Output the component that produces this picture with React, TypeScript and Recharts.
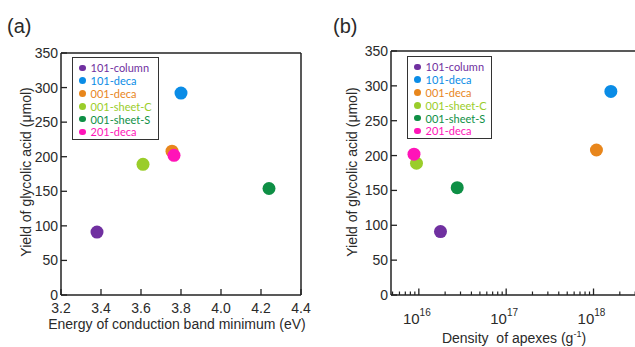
import React from 'react';
import { ScatterChart, Scatter, XAxis, YAxis, Legend, ReferenceLine } from 'recharts';

// ---- data ----
const sampleNames = ['101-column', '101-deca', '001-deca', '001-sheet-C', '001-sheet-S', '201-deca'];
const sampleColors = ['#7030A0', '#0A8CE6', '#E8861C', '#9ACD2A', '#0E8F45', '#FF14B8'];
const yieldValues = [91, 292, 208, 189, 154, 202];
const cbmEnergy = [3.38, 3.8, 3.755, 3.61, 4.24, 3.765];
const apexDensity = [1.77e16, 1.58e18, 1.08e18, 9.4e15, 2.75e16, 8.8e15];

const energyDomain = [3.2, 4.4];
const energyTicks = [3.2, 3.4, 3.6, 3.8, 4.0, 4.2, 4.4];
const yieldDomain = [0, 350];
const yieldTicks = [0, 50, 100, 150, 200, 250, 300, 350];
const densityDomain = [4.8e15, 5.77e18];
const densityMajorTicks = [1e16, 1e17, 1e18];
const densityMinorTicks = [
  5e15, 6e15, 7e15, 8e15, 9e15,
  2e16, 3e16, 4e16, 5e16, 6e16, 7e16, 8e16, 9e16,
  2e17, 3e17, 4e17, 5e17, 6e17, 7e17, 8e17, 9e17,
  2e18, 3e18, 4e18, 5e18,
];

const AXIS = '#222';
const TEXT = '#2a2a2a';
const FONT = '"Liberation Sans", Arial, sans-serif';

const seriesA = sampleNames.map((name, i) => ({ name, color: sampleColors[i], data: [{ x: cbmEnergy[i], y: yieldValues[i] }] }));
const seriesB = sampleNames.map((name, i) => ({ name, color: sampleColors[i], data: [{ x: apexDensity[i], y: yieldValues[i] }] }));

const dot = (color: string) => (props: any) => {
  if (props.cx == null || props.cy == null) return <g />;
  return <circle cx={props.cx} cy={props.cy} r={6.5} fill={color} />;
};

const YTick = (props: any) => {
  const { x, y, payload } = props;
  return (
    <g>
      <line x1={x} x2={x + 6} y1={y} y2={y} stroke={AXIS} strokeWidth={1.3} />
      <text x={x - 3} y={y + 5} textAnchor="end" fontSize={14} fill={TEXT} fontFamily={FONT}>
        {payload.value}
      </text>
    </g>
  );
};

const XTickA = (props: any) => {
  const { x, y, payload } = props;
  return (
    <g>
      <line x1={x} x2={x} y1={y} y2={y - 6} stroke={AXIS} strokeWidth={1.3} />
      <text x={x} y={y + 18} textAnchor="middle" fontSize={14} fill={TEXT} fontFamily={FONT}>
        {Number(payload.value).toFixed(1)}
      </text>
    </g>
  );
};

const XTickB = (props: any) => {
  const { x, y, payload } = props;
  const lg = Math.log10(payload.value);
  const major = Math.abs(lg - Math.round(lg)) < 1e-6;
  if (!major) {
    return <line x1={x} x2={x} y1={y} y2={y - 3.5} stroke={AXIS} strokeWidth={1.2} />;
  }
  return (
    <g>
      <line x1={x} x2={x} y1={y} y2={y - 6.5} stroke={AXIS} strokeWidth={1.3} />
      <text x={x - 2} y={y + 29} textAnchor="middle" fontSize={15} fill={TEXT} fontFamily={FONT}>
        <tspan>10</tspan>
        <tspan dy={-8} fontSize={10}>{Math.round(lg)}</tspan>
      </text>
    </g>
  );
};

const makeLegend = (pos: { width: number; height: number }) => (props: any) => {
  const payload: any[] = props.payload || [];
  const items = sampleNames.map((n, i) => {
    const e = payload.find((p) => p.value === n);
    return { name: n, color: (e && e.color) || sampleColors[i] };
  });
  return (
    <div
      style={{
        boxSizing: 'border-box',
        width: pos.width,
        height: pos.height,
        border: '1.3px solid #333',
        background: '#fff',
        paddingTop: 3.5,
        paddingLeft: 6,
        fontFamily: 'Lato, "Noto Sans", sans-serif',
        fontSize: 11,
      }}
    >
      {items.map((it) => (
        <div key={it.name} style={{ display: 'flex', alignItems: 'center', height: 12.8, color: it.color, whiteSpace: 'nowrap' }}>
          <span style={{ display: 'inline-block', width: 6.5, height: 6.5, borderRadius: 4, background: it.color, marginRight: 5 }} />
          <span>{it.name}</span>
        </div>
      ))}
    </div>
  );
};

export default function App() {
  return (
    <div style={{ position: 'absolute', left: 0, top: 0, width: 635, height: 347, overflow: 'hidden', background: '#fff' }}>
      <div style={{ position: 'absolute', left: 0, top: 0 }}>
        <ScatterChart width={320} height={347} margin={{ top: 53, right: 19, bottom: 22, left: 1 }}>
          <XAxis
            type="number"
            dataKey="x"
            domain={energyDomain}
            ticks={energyTicks}
            interval={0}
            allowDataOverflow
            height={30}
            tickSize={0}
            tickMargin={0}
            tickLine={false}
            axisLine={{ stroke: AXIS, strokeWidth: 1.5 }}
            tick={<XTickA />}
          />
          <YAxis
            type="number"
            dataKey="y"
            domain={yieldDomain}
            ticks={yieldTicks}
            interval={0}
            allowDataOverflow
            width={60}
            tickSize={0}
            tickMargin={0}
            tickLine={false}
            axisLine={{ stroke: AXIS, strokeWidth: 1.5 }}
            tick={<YTick />}
          />
          <ReferenceLine y={yieldDomain[1]} stroke={AXIS} strokeWidth={1.5} />
          <ReferenceLine x={energyDomain[1]} stroke={AXIS} strokeWidth={1.5} />
          {seriesA.map((s) => (
            <Scatter key={s.name} name={s.name} data={s.data} fill={s.color} shape={dot(s.color)} isAnimationActive={false} />
          ))}
          <Legend
            layout="vertical"
            align="center"
            verticalAlign="middle"
            wrapperStyle={{ left: 72, top: 57, width: 87, height: 83 }}
            content={makeLegend({ width: 87, height: 83 })}
          />
        </ScatterChart>
      </div>
      <div style={{ position: 'absolute', left: 320, top: 0 }}>
        <ScatterChart width={360} height={347} margin={{ top: 51, right: 20, bottom: 22, left: 11 }}>
          <XAxis
            type="number"
            dataKey="x"
            scale="log"
            domain={densityDomain}
            ticks={[...densityMajorTicks, ...densityMinorTicks].sort((a, b) => a - b)}
            interval={0}
            allowDataOverflow
            height={30}
            tickSize={0}
            tickMargin={0}
            tickLine={false}
            axisLine={{ stroke: AXIS, strokeWidth: 1.5 }}
            tick={<XTickB />}
          />
          <YAxis
            type="number"
            dataKey="y"
            domain={yieldDomain}
            ticks={yieldTicks}
            interval={0}
            allowDataOverflow
            width={60}
            tickSize={0}
            tickMargin={0}
            tickLine={false}
            axisLine={{ stroke: AXIS, strokeWidth: 1.5 }}
            tick={<YTick />}
          />
          <ReferenceLine y={yieldDomain[1]} stroke={AXIS} strokeWidth={1.5} />
          {seriesB.map((s) => (
            <Scatter key={s.name} name={s.name} data={s.data} fill={s.color} shape={dot(s.color)} isAnimationActive={false} />
          ))}
          <Legend
            layout="vertical"
            align="center"
            verticalAlign="middle"
            wrapperStyle={{ left: 87, top: 56, width: 85, height: 83 }}
            content={makeLegend({ width: 85, height: 83 })}
          />
        </ScatterChart>
      </div>
      <svg width={635} height={347} style={{ position: 'absolute', left: 0, top: 0, pointerEvents: 'none' }}>
        <g fontFamily={FONT} fill={TEXT}>
          <text x={7} y={33} fontSize={20}>(a)</text>
          <text x={333} y={33} fontSize={20}>(b)</text>
          <text x={177} y={329} fontSize={14} textAnchor="middle">Energy of conduction band minimum (eV)</text>
          <text x={31} y={172} fontSize={14} textAnchor="middle" transform="rotate(-90 31 172)">Yield of glycolic acid (μmol)</text>
          <text x={357} y={172} fontSize={14} textAnchor="middle" transform="rotate(-90 357 172)">Yield of glycolic acid (μmol)</text>
          <text x={514} y={343} fontSize={14} textAnchor="middle" style={{ whiteSpace: 'pre' }}>
            <tspan>Density  of apexes (g</tspan>
            <tspan dy={-6} fontSize={9}>-1</tspan>
            <tspan dy={6}>)</tspan>
          </text>
        </g>
      </svg>
    </div>
  );
}
